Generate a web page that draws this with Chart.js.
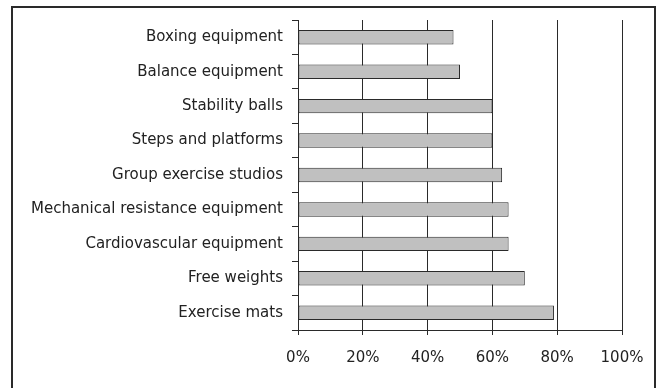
<!DOCTYPE html>
<html>
<head>
<meta charset="utf-8">
<script src="https://cdn.jsdelivr.net/npm/chart.js@4"></script>
<style>
  html, body { margin: 0; padding: 0; background: #fff; overflow: hidden; }
  #wrap { position: relative; width: 660px; height: 388px; overflow: hidden; }
  #frame {
    position: absolute; left: 11px; top: 6px; width: 641px; height: 400px;
    border: 2px solid #2a2a2a; pointer-events: none;
  }
</style>
</head>
<body>
<div id="wrap">
  <canvas id="myChart" width="660" height="388"></canvas>
  <div id="frame"></div>
</div>
<script>
"use strict";

const categories = [
  "Boxing equipment",
  "Balance equipment",
  "Stability balls",
  "Steps and platforms",
  "Group exercise studios",
  "Mechanical resistance equipment",
  "Cardiovascular equipment",
  "Free weights",
  "Exercise mats",
];
const shares = [48, 50, 60, 60, 63, 65, 65, 70, 79];
const xTicks = [0, 20, 40, 60, 80, 100];

const ctx = document.getElementById("myChart");
const labelFont = { family: "'DejaVu Sans', sans-serif", size: 15 };

new Chart(ctx, {
  type: "bar",
  data: {
    labels: categories,
    datasets: [
      {
        data: shares,
        backgroundColor: "#c0c0c0",
        borderColor: "#2a2a2a",
        borderWidth: 1,
        borderSkipped: false,
        barPercentage: 0.42,
        categoryPercentage: 1,
      },
    ],
  },
  options: {
    indexAxis: "y",
    responsive: false,
    animation: false,
    layout: { padding: { top: 20, right: 38, left: 0, bottom: 0 } },
    plugins: { legend: { display: false }, tooltip: { enabled: false } },
    scales: {
      x: {
        min: 0,
        max: 100,
        afterBuildTicks: (scale) => {
          scale.ticks = xTicks.map((v) => ({ value: v }));
        },
        afterFit: (scale) => {
          scale.height = 58;
        },
        grid: { color: "#2a2a2a", lineWidth: 1, tickLength: 5 },
        border: { color: "#2a2a2a", width: 1 },
        ticks: {
          color: "#222",
          font: labelFont,
          padding: 14,
          callback: (v) => v + "%",
        },
      },
      y: {
        afterFit: (scale) => {
          scale.width = 298;
        },
        grid: { drawOnChartArea: false, color: "#2a2a2a", tickLength: 6, offset: true },
        border: { color: "#2a2a2a", width: 1 },
        ticks: { color: "#222", font: labelFont, padding: 9 },
      },
    },
  },
});
</script>
</body>
</html>
